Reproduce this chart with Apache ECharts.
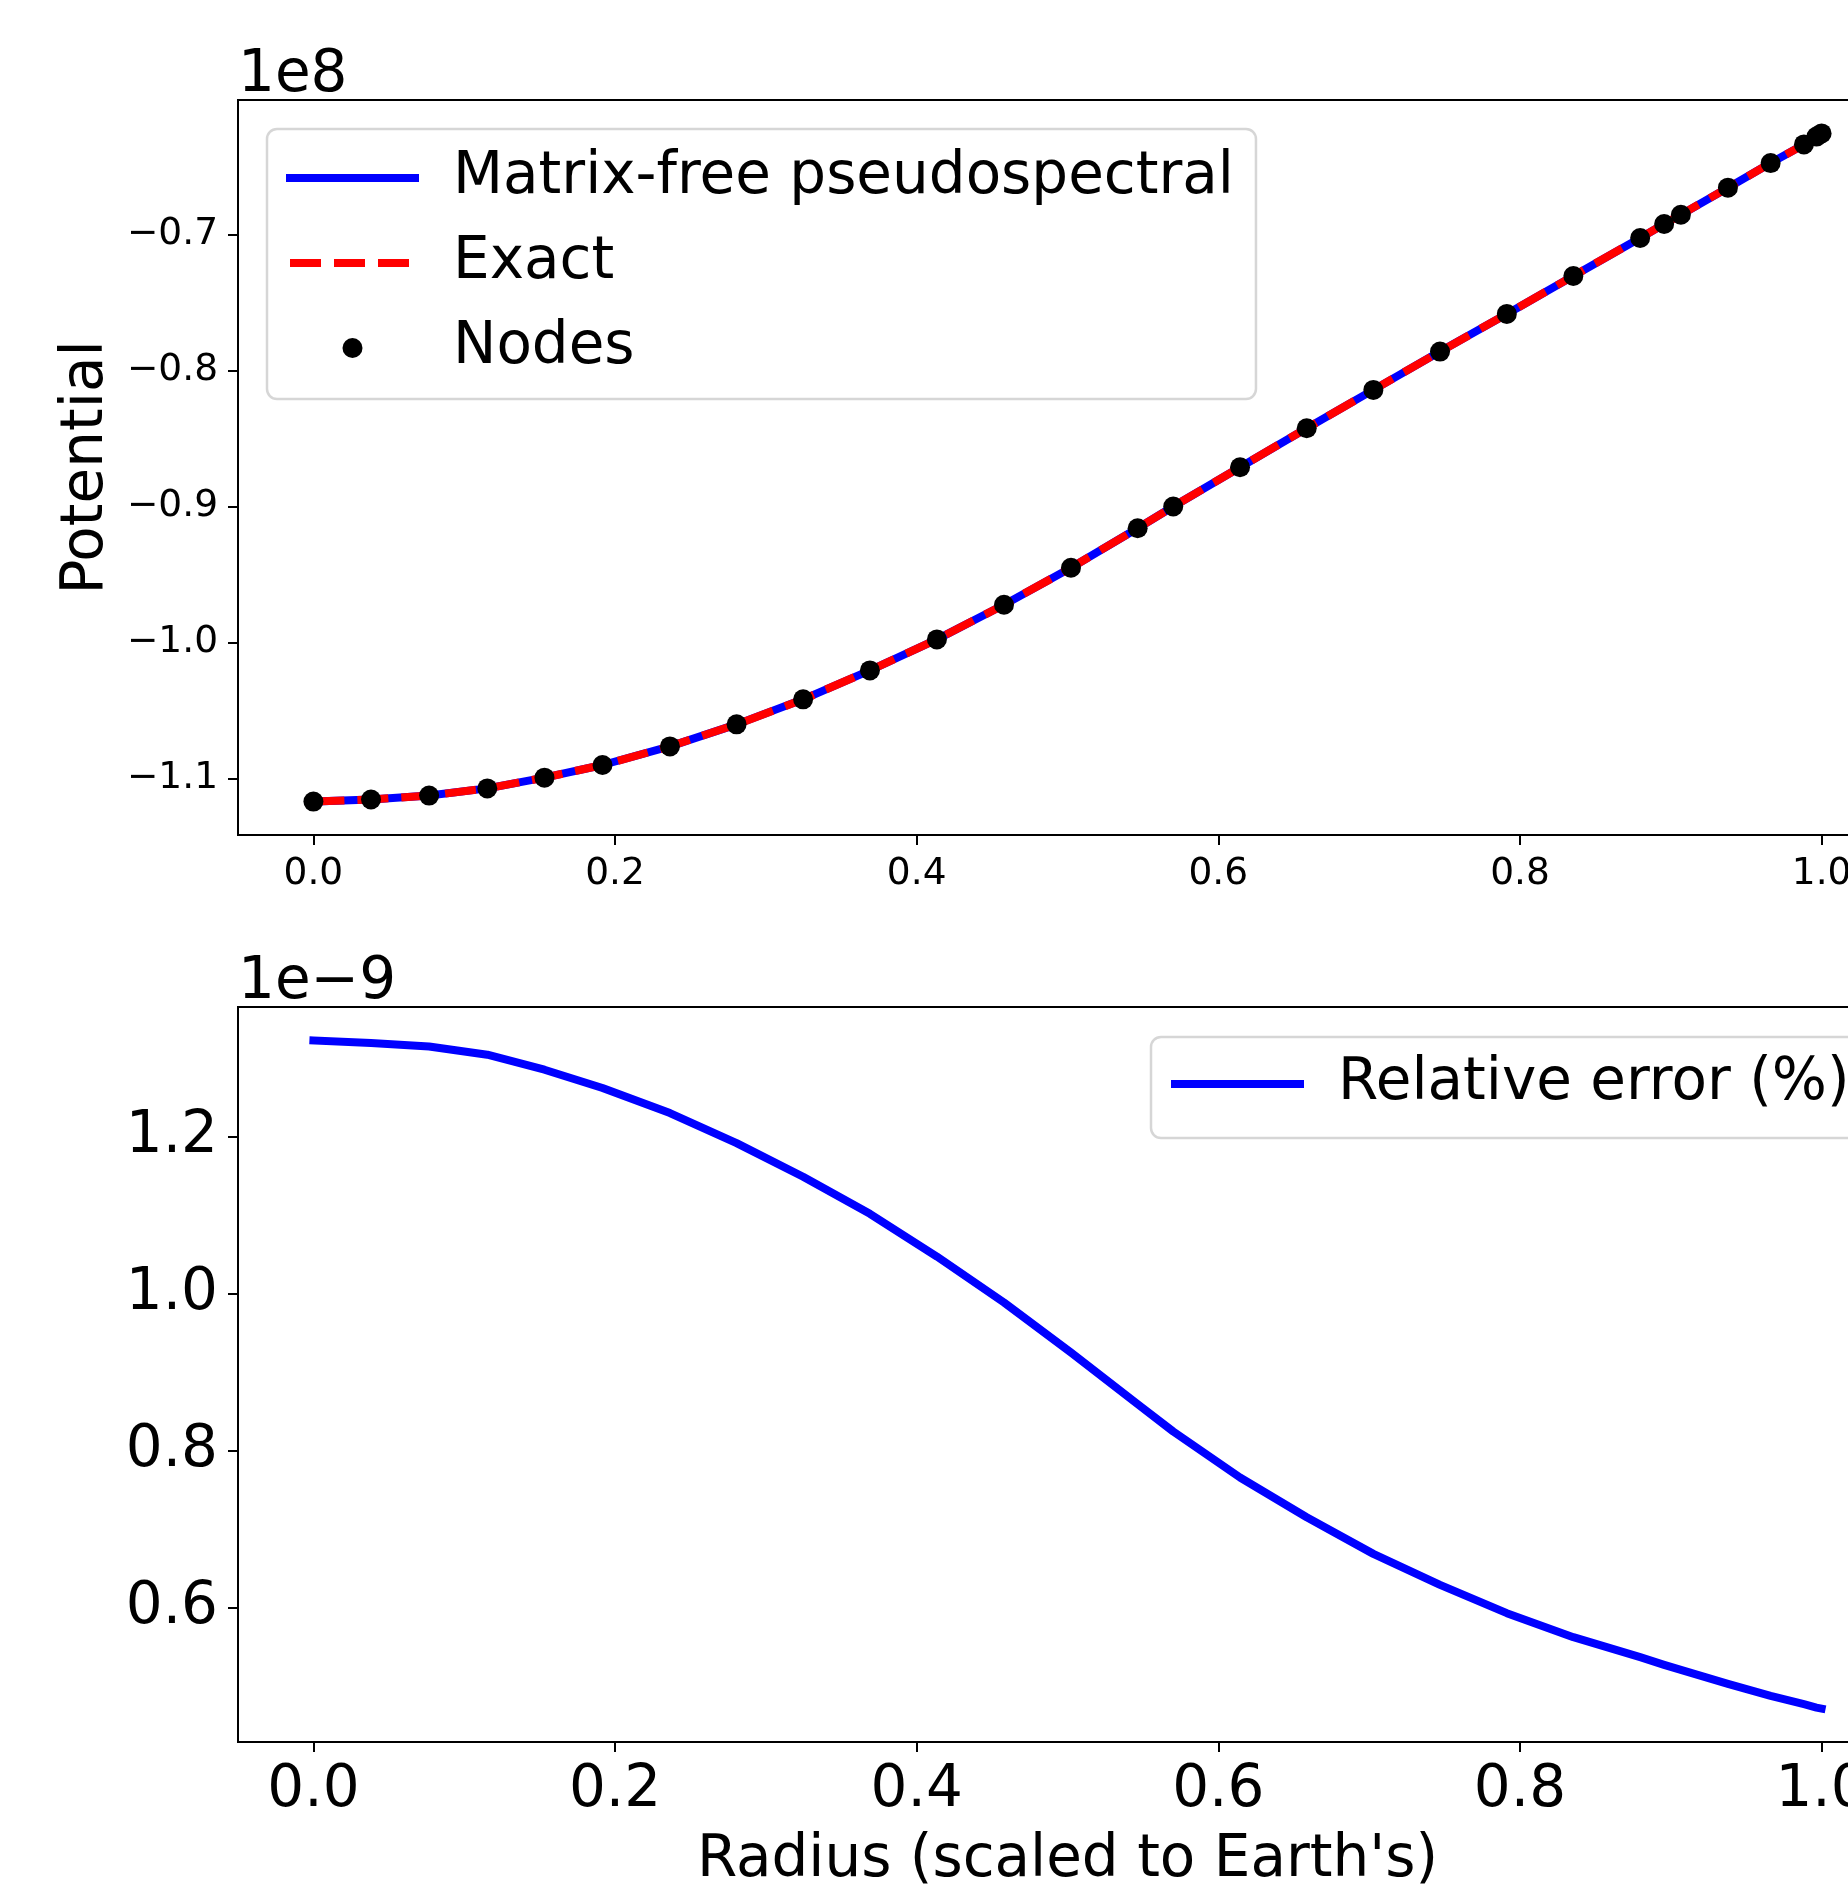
<!DOCTYPE html>
<html>
<head>
<meta charset="utf-8">
<script src="https://cdn.jsdelivr.net/npm/echarts@6.0.0/dist/echarts.min.js"></script>
<style>
  html, body { margin: 0; padding: 0; background: #fff; }
  #chart { width: 1848px; height: 1884px; }
</style>
</head>
<body>
<div id="chart"></div>
<script>
// radius of the collocation nodes (scaled to Earth's radius)
const nodeRadius = [0, 0.0382, 0.0767, 0.1153, 0.1532, 0.1917, 0.2364, 0.2806, 0.3247, 0.3690,
  0.4134, 0.4579, 0.5023, 0.5465, 0.5701, 0.6144, 0.6586, 0.7028, 0.7470, 0.7913,
  0.8354, 0.8797, 0.8956, 0.9067, 0.9379, 0.9662, 0.9883, 0.9966, 1.0];
// gravitational potential at the nodes
const nodePotential = [-1.1171e8, -1.1156e8, -1.1127e8, -1.1074e8, -1.0995e8, -1.0902e8, -1.0765e8, -1.0603e8, -1.0419e8, -1.0206e8,
  -0.9978e8, -0.9723e8, -0.9451e8, -0.9160e8, -0.9000e8, -0.8711e8, -0.8424e8, -0.8142e8, -0.7860e8, -0.7583e8,
  -0.7304e8, -0.7024e8, -0.6921e8, -0.6853e8, -0.6654e8, -0.6473e8, -0.6336e8, -0.6278e8, -0.6255e8];
// relative error (%) at the nodes
const relError = [1.3223e-9, 1.3190e-9, 1.3146e-9, 1.3041e-9, 1.2850e-9, 1.2617e-9, 1.2298e-9, 1.1916e-9, 1.1487e-9, 1.1015e-9,
  1.0471e-9, 0.9885e-9, 0.9248e-9, 0.8591e-9, 0.8242e-9, 0.7656e-9, 0.7150e-9, 0.6684e-9, 0.6289e-9, 0.5929e-9,
  0.5623e-9, 0.5368e-9, 0.5270e-9, 0.5206e-9, 0.5028e-9, 0.4875e-9, 0.4769e-9, 0.4726e-9, 0.4713e-9];

const radiusTicks = [0, 0.2, 0.4, 0.6, 0.8, 1.0];
const potentialTicks = [-1.1e8, -1.0e8, -0.9e8, -0.8e8, -0.7e8];
const errorTicks = [0.6e-9, 0.8e-9, 1.0e-9, 1.2e-9];

const FONT = 'DejaVu Sans';
const BIG = 58;     // labels, legend, bottom tick labels
const SMALL = 37.5; // top panel tick labels

function fmt(v, scale) {
  return (v / scale).toFixed(1).replace('-', '\u2212');
}

const potentialData = nodeRadius.map((r, i) => [r, nodePotential[i]]);
const errorData = nodeRadius.map((r, i) => [r, relError[i]]);

function xAxisFor(gridIndex, fontSize, name) {
  return {
    type: 'value', gridIndex: gridIndex, min: -0.05, max: 1.05,
    axisLine: { show: true, onZero: false, lineStyle: { color: '#000', width: 2 } },
    axisTick: { show: true, length: 10, lineStyle: { color: '#000', width: 2 }, customValues: radiusTicks },
    axisLabel: { margin: 20, fontSize: fontSize, color: '#000', fontFamily: FONT,
      customValues: radiusTicks, formatter: v => v.toFixed(1) },
    splitLine: { show: false },
    name: name || '', nameLocation: 'middle', nameGap: 90,
    nameTextStyle: { fontSize: BIG, color: '#000', fontFamily: FONT }
  };
}

// legend entries: hide the symbol drawn in the middle of line icons
const noSymbol = { opacity: 0 };

const chart = echarts.init(document.getElementById('chart'));

chart.setOption({
  animation: false,
  backgroundColor: '#fff',
  grid: [
    { left: 238, top: 100, width: 1659, height: 735, outerBoundsMode: 'none',
      show: true, borderColor: '#000', borderWidth: 2 },
    { left: 238, top: 1007, width: 1659, height: 735, outerBoundsMode: 'none',
      show: true, borderColor: '#000', borderWidth: 2 }
  ],
  xAxis: [xAxisFor(0, SMALL), xAxisFor(1, BIG, "Radius (scaled to Earth's)")],
  yAxis: [
    {
      type: 'value', gridIndex: 0, position: 'left', min: -1.1417e8, max: -0.6009e8,
      axisLine: { show: true, onZero: false, lineStyle: { color: '#000', width: 2 } },
      axisTick: { show: true, length: 10, lineStyle: { color: '#000', width: 2 }, customValues: potentialTicks },
      axisLabel: { margin: 20, fontSize: SMALL, color: '#000', fontFamily: FONT,
        customValues: potentialTicks, formatter: v => fmt(v, 1e8) },
      splitLine: { show: false },
      name: 'Potential', nameLocation: 'middle', nameRotate: 90, nameGap: 122,
      nameTextStyle: { fontSize: BIG, color: '#000', fontFamily: FONT }
    },
    {
      // carries only the offset text of the potential axis
      type: 'value', gridIndex: 0, position: 'left', offset: 0, min: 0, max: 1,
      axisLine: { show: false, onZero: false }, axisTick: { show: false }, axisLabel: { show: false },
      splitLine: { show: false },
      name: '1e8', nameLocation: 'end', nameGap: 24,
      nameTextStyle: { fontSize: BIG, color: '#000', fontFamily: FONT, align: 'left', verticalAlign: 'middle' }
    },
    {
      type: 'value', gridIndex: 1, position: 'left', min: 0.4288e-9, max: 1.3649e-9,
      axisLine: { show: true, onZero: false, lineStyle: { color: '#000', width: 2 } },
      axisTick: { show: true, length: 10, lineStyle: { color: '#000', width: 2 }, customValues: errorTicks },
      axisLabel: { margin: 20, fontSize: BIG, color: '#000', fontFamily: FONT,
        customValues: errorTicks, formatter: v => fmt(v, 1e-9) },
      splitLine: { show: false },
      name: '1e\u22129', nameLocation: 'end', nameGap: 24,
      nameTextStyle: { fontSize: BIG, color: '#000', fontFamily: FONT, align: 'left', verticalAlign: 'middle' }
    }
  ],
  legend: [
    {
      orient: 'vertical', left: 267, top: 129, padding: [20, 22, 22, 19],
      itemWidth: 125, itemHeight: 20, itemGap: 27, selectedMode: false,
      backgroundColor: '#fff', borderColor: '#d6d6d6', borderWidth: 2.5, borderRadius: 10,
      lineStyle: { width: 8 },
      textStyle: { fontSize: BIG, color: '#000', fontFamily: FONT, padding: [0, 0, 0, 33] },
      data: [
        { name: 'Matrix-free pseudospectral', itemStyle: noSymbol },
        { name: 'Exact', itemStyle: noSymbol },
        { name: 'Nodes', itemStyle: { color: '#000', opacity: 1 } }
      ]
    },
    {
      orient: 'vertical', left: 1151, top: 1037, padding: [18, 25, 25, 20],
      itemWidth: 125, itemHeight: 20, itemGap: 27, selectedMode: false,
      backgroundColor: '#fff', borderColor: '#d6d6d6', borderWidth: 2.5, borderRadius: 10,
      lineStyle: { width: 8 },
      textStyle: { fontSize: BIG, color: '#000', fontFamily: FONT, padding: [0, 0, 0, 33] },
      data: [{ name: 'Relative error (%)', itemStyle: noSymbol }]
    }
  ],
  series: [
    {
      name: 'Matrix-free pseudospectral', type: 'line', xAxisIndex: 0, yAxisIndex: 0,
      data: potentialData, symbol: 'none', showSymbol: false, z: 2,
      lineStyle: { color: '#0000ff', width: 8, cap: 'square', join: 'round' },
      itemStyle: { color: '#0000ff' }
    },
    {
      name: 'Exact', type: 'line', xAxisIndex: 0, yAxisIndex: 0,
      data: potentialData, symbol: 'none', showSymbol: false, z: 3,
      lineStyle: { color: '#ff0000', width: 8, type: [31, 13], cap: 'butt', join: 'round' },
      itemStyle: { color: '#ff0000' }
    },
    {
      name: 'Nodes', type: 'scatter', xAxisIndex: 0, yAxisIndex: 0,
      data: potentialData, symbol: 'circle', symbolSize: 20, z: 4,
      itemStyle: { color: '#000', opacity: 1 }
    },
    {
      name: 'Relative error (%)', type: 'line', xAxisIndex: 1, yAxisIndex: 2,
      data: errorData, symbol: 'none', showSymbol: false, z: 2,
      lineStyle: { color: '#0000ff', width: 8, cap: 'square', join: 'round' },
      itemStyle: { color: '#0000ff' }
    }
  ]
});
</script>
</body>
</html>
